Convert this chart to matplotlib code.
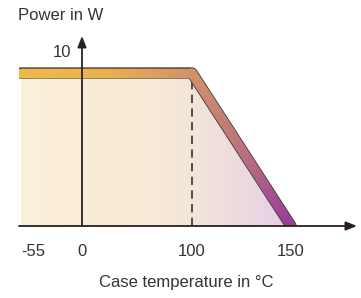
import numpy as np
import matplotlib
matplotlib.use("Agg")
import matplotlib.pyplot as plt
from matplotlib.collections import LineCollection
from matplotlib.colors import LinearSegmentedColormap
from matplotlib.patches import Polygon

# derating curve: case temperature (°C) vs. allowed power (W)
temps = [-55, 100, 150]
power = [10, 10, 0]
tick_temps = [-55, 0, 100, 150]
tick_labels = ["-55", "0", "100", "150"]
knee_temp = 100

# schematic (non-linear) temperature axis: temperature -> pixel offset
TEMP_K = [-56.8, -55, 0, 100, 150, 183]
PIX_K = [0, 2, 63, 173, 272, 338]

INK = "#333333"
plt.rcParams["font.family"] = ["Liberation Sans", "DejaVu Sans"]
plt.rcParams["font.size"] = 12


def _fwd(x):
    return np.interp(x, TEMP_K, PIX_K)


def _inv(p):
    return np.interp(p, PIX_K, TEMP_K)


fig = plt.figure(figsize=(3.61, 2.98), dpi=100)
ax = fig.add_axes([19 / 361, 72 / 298, 338 / 361, 190 / 298])
ax.set_xscale("function", functions=(_fwd, _inv))
ax.set_xlim(TEMP_K[0], TEMP_K[-1])
ax.set_ylim(0, 12.42)
for spine in ax.spines.values():
    spine.set_visible(False)
ax.set_yticks([])
ax.set_xticks(tick_temps, tick_labels, color=INK)
ax.tick_params(axis="x", length=0, pad=13)
ax.get_xticklabels()[0].set_horizontalalignment("left")

# gradient fill under the curve
fill_cmap = LinearSegmentedColormap.from_list(
    "fill", [(0, "#fbf0d9"), (0.42, "#f8ead6"), (0.55, "#f1e3da"), (0.8, "#e4cfe6"), (1, "#e0c8e6")]
)
grad = np.linspace(0, 1, 256).reshape(1, -1)
img = ax.imshow(grad, cmap=fill_cmap, extent=(0, 1, 0, 1), transform=ax.transAxes, aspect="auto", zorder=1)
poly = Polygon(list(zip(temps, power)) + [(temps[-1], 0), (temps[0], 0)], closed=True,
               transform=ax.transData, facecolor="none", edgecolor="none")
ax.add_patch(poly)
img.set_clip_path(poly)

# dashed marker at the knee
ax.plot([knee_temp, knee_temp], [0, 9.5], color=INK, lw=1.2, dashes=(5, 3.2), zorder=2)

# outlined gradient curve
ax.plot(temps, power, color="#4a3a3a", lw=8.2, solid_capstyle="round", solid_joinstyle="round", zorder=3)
segs = []
mids = []
for (x0, y0), (x1, y1) in zip(zip(temps[:-1], power[:-1]), zip(temps[1:], power[1:])):
    t = np.linspace(0, 1, 60)
    xs = x0 + (x1 - x0) * t
    ys = y0 + (y1 - y0) * t
    for i in range(len(t) - 1):
        segs.append([(xs[i], ys[i]), (xs[i + 1], ys[i + 1])])
        mids.append(_fwd((xs[i] + xs[i + 1]) / 2) / PIX_K[-1])
line_cmap = LinearSegmentedColormap.from_list(
    "line", [(0, "#efbb47"), (0.25, "#ebb24f"), (0.52, "#d3916b"), (0.68, "#b8707f"), (0.81, "#973c9d"), (1, "#973c9d")]
)
lc = LineCollection(segs, cmap=line_cmap, linewidths=6.8, capstyle="round", zorder=4)
lc.set_array(np.array(mids))
lc.set_clim(0, 1)
ax.add_collection(lc)

# axes with arrow heads
arrow = dict(arrowstyle="-|>,head_length=0.55,head_width=0.22", color="#2a2020", lw=1.3, shrinkA=0, shrinkB=0)
ax.annotate("", xy=(TEMP_K[-1], 0), xytext=(TEMP_K[0], 0), arrowprops=arrow, zorder=5)
ax.annotate("", xy=(0, 12.42), xytext=(0, 0), arrowprops=arrow, zorder=5)

ax.text(-10, 11.37, "10", ha="right", va="center", color=INK)
fig.text(18 / 361, 1 - 15 / 298, "Power in W", ha="left", va="center", color=INK)
fig.text(186 / 361, 1 - 282 / 298, "Case temperature in °C", ha="center", va="center", color=INK)

fig.savefig("out.png", dpi=100)
